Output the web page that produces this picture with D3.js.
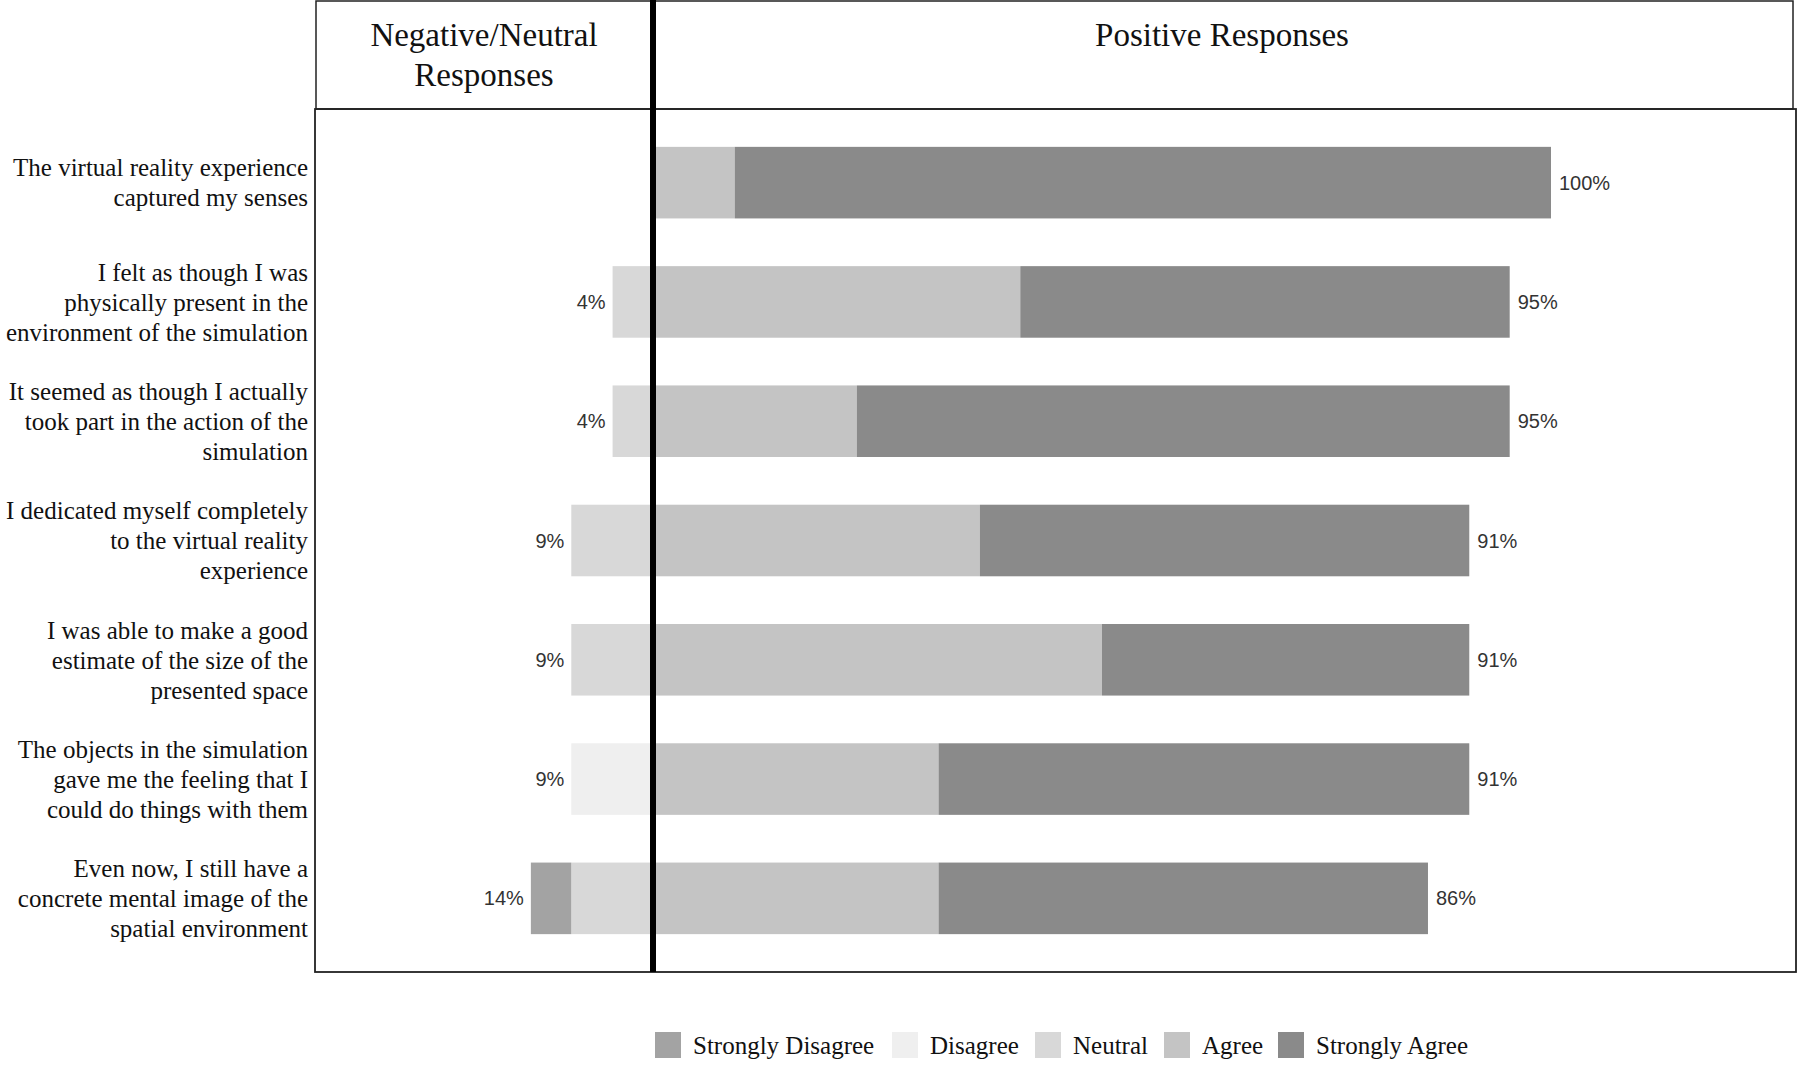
<!DOCTYPE html>
<html><head><meta charset="utf-8">
<script src="https://cdn.jsdelivr.net/npm/d3@7"></script>
<style>body{margin:0;background:#fff}svg{display:block}</style>
</head><body>
<svg id="c" width="1800" height="1068"></svg>
<script>
const categories = [
  ["The virtual reality experience","captured my senses"],
  ["I felt as though I was","physically present in the","environment of the simulation"],
  ["It seemed as though I actually","took part in the action of the","simulation"],
  ["I dedicated myself completely","to the virtual reality","experience"],
  ["I was able to make a good","estimate of the size of the","presented space"],
  ["The objects in the simulation","gave me the feeling that I","could do things with them"],
  ["Even now, I still have a","concrete mental image of the","spatial environment"]
];
const seriesNames = ["Strongly Disagree","Disagree","Neutral","Agree","Strongly Agree"];
const stronglyDisagree = [0, 0, 0, 0, 0, 0, 4.5];
const disagree         = [0, 0, 0, 0, 0, 9.1, 0];
const neutral          = [0, 4.5, 4.5, 9.1, 9.1, 0, 9.1];
const agree            = [9.1, 40.9, 22.7, 36.4, 50.0, 31.8, 31.8];
const stronglyAgree    = [90.9, 54.5, 72.7, 54.5, 40.9, 59.1, 54.5];
const negLabels = ["", "4%", "4%", "9%", "9%", "9%", "14%"];
const posLabels = ["100%", "95%", "95%", "91%", "91%", "91%", "86%"];
const headers = [["Negative/Neutral","Responses"],["Positive Responses"]];
const colors = ["#a3a3a3","#efefef","#d8d8d8","#c4c4c4","#8a8a8a"];

const svg = d3.select("#c");
const x = d3.scaleLinear().domain([0,100]).range([653,1551]);
const ids = d3.range(categories.length);
const y = d3.scaleBand().domain(ids).range([123,958]).paddingInner(0.4).paddingOuter(0.2);
const color = d3.scaleOrdinal().domain(seriesNames).range(colors);

const frameStroke = "#222";
svg.append("rect").attr("x",316).attr("y",1).attr("width",1477).attr("height",108)
  .attr("fill","none").attr("stroke",frameStroke).attr("stroke-width",1.5);
svg.append("rect").attr("x",315).attr("y",109).attr("width",1481).attr("height",863)
  .attr("fill","none").attr("stroke",frameStroke).attr("stroke-width",1.8);

const hdr = svg.append("g").attr("font-family","'Liberation Serif', 'Times New Roman', serif")
  .attr("font-size",33).attr("fill","#111").attr("text-anchor","middle");
hdr.append("text").attr("x",484).attr("y",46)
  .selectAll("tspan").data(headers[0]).join("tspan")
  .attr("x",484).attr("dy",(d,i)=>i?40:0).text(d=>d);
hdr.append("text").attr("x",1222).attr("y",46).text(headers[1][0]);

const negSeries = [
  {name:"Neutral", vals:neutral},
  {name:"Disagree", vals:disagree},
  {name:"Strongly Disagree", vals:stronglyDisagree}
];
const posSeries = [
  {name:"Agree", vals:agree},
  {name:"Strongly Agree", vals:stronglyAgree}
];
const bars = svg.append("g");
ids.forEach(i=>{
  let acc = 0;
  negSeries.forEach(s=>{
    const v = s.vals[i];
    if(v>0){
      bars.append("rect").attr("x",x(-(acc+v))).attr("width",x(-acc)-x(-(acc+v)))
        .attr("y",y(i)).attr("height",y.bandwidth()).attr("fill",color(s.name));
    }
    acc += v;
  });
  acc = 0;
  posSeries.forEach(s=>{
    const v = s.vals[i];
    if(v>0){
      bars.append("rect").attr("x",x(acc)).attr("width",x(acc+v)-x(acc))
        .attr("y",y(i)).attr("height",y.bandwidth()).attr("fill",color(s.name));
    }
    acc += v;
  });
});

const lab = svg.append("g").attr("font-family","'Liberation Sans', Arial, sans-serif")
  .attr("font-size",20).attr("fill","#333");
ids.forEach(i=>{
  const negTot = neutral[i]+disagree[i]+stronglyDisagree[i];
  const posTot = agree[i]+stronglyAgree[i];
  const cy = y(i)+y.bandwidth()/2;
  if(negLabels[i]) lab.append("text").attr("x",x(-negTot)-7).attr("y",cy).attr("dy","0.35em")
    .attr("text-anchor","end").text(negLabels[i]);
  lab.append("text").attr("x",x(posTot)+8).attr("y",cy).attr("dy","0.35em").text(posLabels[i]);
});

const cat = svg.append("g").attr("font-family","'Liberation Serif', 'Times New Roman', serif")
  .attr("font-size",25).attr("fill","#111").attr("text-anchor","end");
ids.forEach(i=>{
  const lines = categories[i];
  const cy = y(i)+y.bandwidth()/2;
  const lh = 30;
  const t = cat.append("text").attr("x",308).attr("y",cy - (lines.length-1)*lh/2);
  lines.forEach((l,j)=>t.append("tspan").attr("x",308).attr("dy", j?lh:"0.35em").text(l));
});

svg.append("line").attr("x1",x(0)).attr("x2",x(0)).attr("y1",0).attr("y2",972)
  .attr("stroke","#000").attr("stroke-width",6);

const legX = [655, 892, 1035, 1164, 1278];
const leg = svg.append("g").attr("font-family","'Liberation Serif', 'Times New Roman', serif")
  .attr("font-size",25).attr("fill","#111");
seriesNames.forEach((n,k)=>{
  leg.append("rect").attr("x",legX[k]).attr("y",1032).attr("width",26).attr("height",26).attr("fill",color(n));
  leg.append("text").attr("x",legX[k]+38).attr("y",1045).attr("dy","0.35em").text(n);
});
</script>
</body></html>
